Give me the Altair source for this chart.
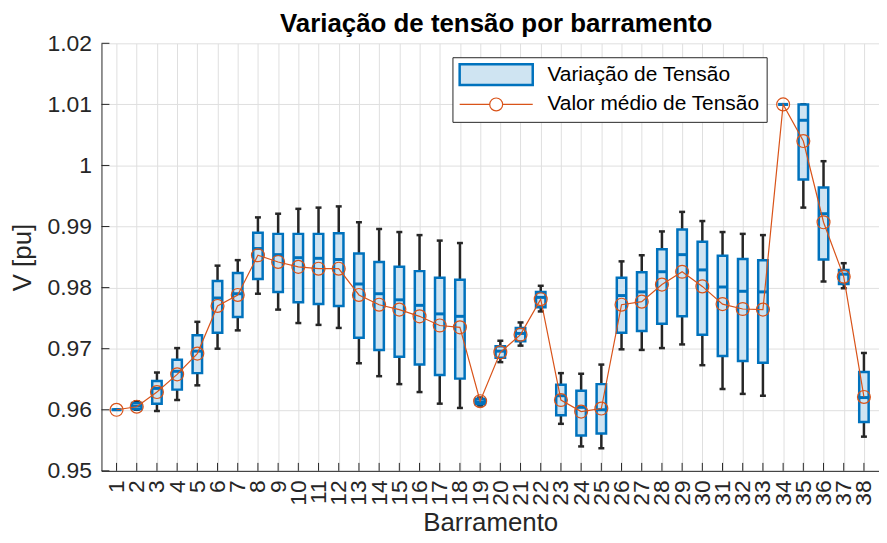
import altair as alt
import pandas as pd

buses = list(range(1, 39))
whisker_low = [0.9600, 0.9600, 0.9598, 0.9616, 0.9640, 0.9700, 0.9730, 0.9790, 0.9764, 0.9742,
               0.9739, 0.9734, 0.9676, 0.9655, 0.9642, 0.9629, 0.9610, 0.9603, 0.9607, 0.9678,
               0.9705, 0.9761, 0.9577, 0.9540, 0.9537, 0.9699, 0.9698, 0.9701, 0.9707, 0.9673,
               0.9634, 0.9626, 0.9623, 1.0100, 0.9931, 0.9810, 0.9799, 0.9556]
q1 = [0.9600, 0.9601, 0.9610, 0.9633, 0.9660, 0.9726, 0.9752, 0.9814, 0.9793, 0.9776,
      0.9773, 0.9770, 0.9718, 0.9698, 0.9687, 0.9674, 0.9657, 0.9651, 0.9609, 0.9685,
      0.9712, 0.9768, 0.9591, 0.9558, 0.9561, 0.9726, 0.9729, 0.9741, 0.9753, 0.9723,
      0.9688, 0.9680, 0.9677, 1.0100, 0.9977, 0.9846, 0.9806, 0.9580]
median = [0.9600, 0.9606, 0.9635, 0.9663, 0.9696, 0.9783, 0.9790, 0.9864, 0.9854, 0.9849,
          0.9848, 0.9846, 0.9806, 0.9790, 0.9780, 0.9771, 0.9757, 0.9753, 0.9613, 0.9696,
          0.9725, 0.9784, 0.9623, 0.9604, 0.9600, 0.9787, 0.9793, 0.9826, 0.9854, 0.9829,
          0.9801, 0.9794, 0.9793, 1.0100, 1.0074, 0.9921, 0.9822, 0.9620]
q3 = [0.9600, 0.9611, 0.9647, 0.9682, 0.9722, 0.9811, 0.9824, 0.9890, 0.9888, 0.9888,
      0.9888, 0.9889, 0.9856, 0.9842, 0.9834, 0.9827, 0.9816, 0.9813, 0.9618, 0.9704,
      0.9734, 0.9793, 0.9641, 0.9631, 0.9642, 0.9816, 0.9825, 0.9863, 0.9895, 0.9875,
      0.9852, 0.9847, 0.9845, 1.0100, 1.0100, 0.9964, 0.9829, 0.9662]
whisker_high = [0.9600, 0.9614, 0.9661, 0.9701, 0.9744, 0.9836, 0.9845, 0.9915, 0.9921, 0.9929,
                0.9931, 0.9933, 0.9907, 0.9896, 0.9891, 0.9886, 0.9877, 0.9873, 0.9620, 0.9713,
                0.9743, 0.9803, 0.9660, 0.9659, 0.9674, 0.9843, 0.9853, 0.9892, 0.9924, 0.9909,
                0.9891, 0.9888, 0.9886, 1.0100, 1.0100, 1.0007, 0.9840, 0.9693]
mean_v = [0.9600, 0.9605, 0.9629, 0.9658, 0.9692, 0.9770, 0.9788, 0.9853, 0.9842, 0.9834,
          0.9831, 0.9831, 0.9788, 0.9772, 0.9764, 0.9753, 0.9738, 0.9735, 0.9614, 0.9694,
          0.9723, 0.9781, 0.9616, 0.9597, 0.9602, 0.9772, 0.9777, 0.9805, 0.9826, 0.9802,
          0.9773, 0.9765, 0.9764, 1.0100, 1.0040, 0.9907, 0.9818, 0.9621]
y_ticks = [0.95, 0.96, 0.97, 0.98, 0.99, 1.00, 1.01, 1.02]
series = ["Variação de Tensão", "Valor médio de Tensão"]

df = pd.DataFrame({
    "bus": buses, "lo": whisker_low, "q1": q1, "med": median,
    "q3": q3, "hi": whisker_high, "mean": mean_v,
})
df["s_box"] = series[0]
df["s_mean"] = series[1]
ytick_df = pd.DataFrame({"y": y_ticks})
xtick_df = pd.DataFrame({"bus": buses})

W, H = 782, 430
FONT = "Liberation Sans"
BLUE = "#0072BD"
LIGHT = "#cfe4f2"
ORANGE = "#D95319"
DARK = "#262626"

xscale = alt.Scale(domain=[0.5, 38.5], nice=False, zero=False)
yscale = alt.Scale(domain=[0.95, 1.02], nice=False, zero=False)

x_axis = alt.Axis(values=buses, labelAngle=270, title="Barramento", grid=True, ticks=False,
                  labelOverlap=False, labelPadding=9, titlePadding=4, labelFlush=False)
y_axis = alt.Axis(values=y_ticks, format=".2~f", title="V [pu]", grid=True, ticks=False,
                  labelPadding=10, titlePadding=12, labelFlush=False)

X = alt.X("bus:Q", scale=xscale, axis=x_axis)

test = "datum.value === '" + series[0] + "'"
BOX_PATH = "M-3.5,-1L3.5,-1L3.5,1L-3.5,1Z"
LINE_PATH = ("M-3.5,0L-0.62,0M0.62,0L3.5,0"
             "M-0.62,0A0.62,0.62,0,1,1,0.62,0A0.62,0.62,0,1,1,-0.62,0")

legend = alt.Legend(
    title=None, orient="none", legendX=353, legendY=14,
    symbolSize=441, symbolOffset=26.5, labelOffset=41,
    symbolType=alt.ExprRef(expr=f"{test} ? '{BOX_PATH}' : '{LINE_PATH}'"),
    symbolStrokeWidth=alt.ExprRef(expr=f"{test} ? 2.5 : 1.2"),
    symbolOpacity=1,
    labelFontSize=21, labelFont=FONT, labelColor="black", labelLimit=400,
    padding=7, rowPadding=3, strokeColor=DARK, fillColor="white", cornerRadius=0,
)
fill_scale = alt.Scale(domain=series, range=[LIGHT, "transparent"])
stroke_scale = alt.Scale(domain=series, range=[BLUE, ORANGE])

base = alt.Chart(df)

whiskers = base.mark_rule(color=DARK, strokeWidth=2.5, opacity=1).encode(
    x=X, y=alt.Y("lo:Q", scale=yscale, axis=y_axis), y2="hi:Q")
cap_lo = base.mark_tick(orient="horizontal", size=6, thickness=2.5, color=DARK,
                        opacity=1).encode(
    x=X, y=alt.Y("lo:Q", scale=yscale, axis=y_axis))
cap_hi = base.mark_tick(orient="horizontal", size=6, thickness=2.5, color=DARK,
                        opacity=1).encode(
    x=X, y=alt.Y("hi:Q", scale=yscale, axis=y_axis))
boxes = base.mark_bar(size=9.5, strokeWidth=2.5, opacity=1).encode(
    x=X, y=alt.Y("q1:Q", scale=yscale, axis=y_axis), y2="q3:Q",
    fill=alt.Fill("s_box:N", scale=fill_scale, legend=legend),
    stroke=alt.Stroke("s_box:N", scale=stroke_scale, legend=legend))
medians = base.mark_tick(orient="horizontal", size=10, thickness=3, color=BLUE,
                         opacity=1).encode(
    x=X, y=alt.Y("med:Q", scale=yscale, axis=y_axis))
mean_line = base.mark_line(strokeWidth=1.2, opacity=1).encode(
    x=X, y=alt.Y("mean:Q", scale=yscale, axis=y_axis),
    stroke=alt.Stroke("s_mean:N", scale=stroke_scale, legend=legend))
mean_pts = base.mark_point(shape="circle", filled=False, size=169, strokeWidth=1.2,
                           color=ORANGE, opacity=1).encode(
    x=X, y=alt.Y("mean:Q", scale=yscale, axis=y_axis))

xticks = alt.Chart(xtick_df).mark_rule(color=DARK, strokeWidth=1).encode(
    x=X, y=alt.value(H), y2=alt.value(H - 8))
yticks = alt.Chart(ytick_df).mark_rule(color=DARK, strokeWidth=1).encode(
    y=alt.Y("y:Q", scale=yscale, axis=y_axis), x=alt.value(0), x2=alt.value(8))

chart = alt.layer(
    xticks, yticks, whiskers, cap_lo, cap_hi, boxes, medians, mean_line, mean_pts
).properties(
    width=W, height=H,
    title=alt.TitleParams("Variação de tensão por barramento", fontSize=26, fontWeight="bold",
                          font=FONT, color="black", anchor="middle", offset=-5, dx=6),
    autosize=alt.AutoSizeParams(type="none"),
    padding={"left": 94, "top": 34, "right": 0, "bottom": 63},
).configure_view(stroke=None).configure_axis(
    domainColor=DARK, domainWidth=1, gridColor="#dfdfdf", gridWidth=1,
    labelColor=DARK, titleColor=DARK, labelFont=FONT, titleFont=FONT,
    labelFontSize=23, titleFontSize=26, titleFontWeight="normal",
)

chart.save("out.html", embed_options={"renderer": "svg", "actions": False})
